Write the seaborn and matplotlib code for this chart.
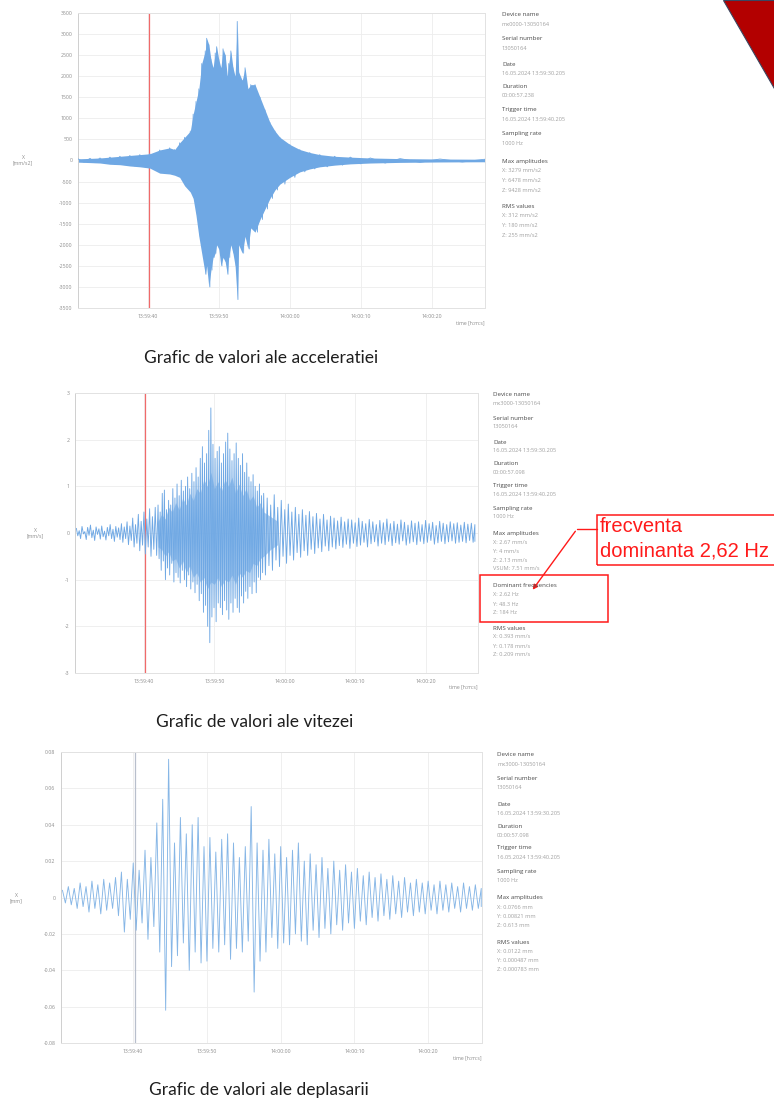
import numpy as np
import pandas as pd
import matplotlib.pyplot as plt
import matplotlib.patches as mpatches
from matplotlib.lines import Line2D
import seaborn as sns

W, H = 774, 1109

# time axis: seconds after 13:59:30
tick_t = [10, 20, 30, 40, 50]
tick_lab = ["13:59:40", "13:59:50", "14:00:00", "14:00:10", "14:00:20"]
trigger_t = 10.205

# acceleration X (mm/s2) - envelope
acc_t = [0.2, 1.9, 3.3, 4.7, 6.1, 7.5, 8.9, 10.3, 11.7, 13.1,
         13.8, 14.5, 15.2, 16.0, 16.4, 16.8, 17.2, 17.6, 18.1, 18.3,
         18.6, 18.9, 19.2, 19.5, 19.7, 20.0, 20.3, 20.6, 20.9, 21.2,
         21.4, 21.7, 22.0, 22.3, 22.6, 22.8, 23.3, 23.7, 24.1, 24.5,
         25.1, 25.8, 26.5, 27.2, 27.9, 28.6, 30.0, 31.4, 32.8, 34.2,
         36.3, 38.5, 41.3, 45.5, 51.1, 57.4]
acc_up = [40, 50, 60, 80, 100, 120, 140, 160, 250, 300,
          260, 420, 550, 700, 1100, 1400, 1700, 2300, 2600, 2900,
          2750, 2400, 2200, 2550, 2700, 2400, 2200, 2650, 2500, 2000,
          2300, 2600, 2200, 2000, 3300, 2100, 1900, 2200, 1700, 1800,
          1800, 1500, 1200, 900, 700, 550, 380, 260, 190, 140,
          100, 80, 60, 45, 35, 30]
acc_low = [-40, -50, -60, -90, -100, -130, -150, -180, -300, -320,
           -350, -400, -600, -750, -900, -1300, -1800, -2200, -2700, -2500,
           -3000, -2600, -2300, -2200, -2000, -2100, -2500, -2300, -2400, -2700,
           -2300, -2000, -2200, -2500, -3300, -2000, -2200, -1800, -2100, -1600,
           -1700, -1400, -1150, -900, -700, -560, -400, -270, -200, -150,
           -110, -80, -60, -45, -35, -30]

# velocity X (mm/s) - peaks
vel_t = np.round(np.concatenate([np.arange(0.4, 11.61, 0.4),
                                 np.arange(12.0, 27.01, 0.3),
                                 np.arange(27.5, 57.01, 0.5)]), 2)
vel_up = [0.10, 0.05, 0.14, 0.03, 0.12, 0.17, 0.06, 0.13, 0.09, 0.15,
          0.04, 0.12, 0.18, 0.08, 0.14, 0.11, 0.20, 0.13, 0.24, 0.15,
          0.32, 0.18, 0.40, 0.25, 0.45, 0.30, 0.52, 0.35, 0.55,
          0.60, 0.45, 0.85, 0.92, 0.50, 0.70, 0.60, 0.95, 0.75, 1.05,
          0.80, 1.13, 0.90, 1.00, 1.20, 0.95, 1.28, 1.10, 1.40, 1.20,
          1.60, 1.85, 1.50, 1.70, 2.20, 2.68, 1.90, 1.60, 1.75, 1.85,
          1.50, 1.70, 1.95, 2.14, 1.80, 1.55, 1.70, 1.93, 1.60, 1.45,
          1.70, 1.30, 1.50, 1.20, 1.10, 1.25, 1.00, 0.90, 1.05, 0.80,
          0.85,
          0.75, 0.60, 0.82, 0.55, 0.70, 0.50, 0.62, 0.45, 0.55, 0.40,
          0.50, 0.38, 0.46, 0.35, 0.42, 0.30, 0.40, 0.28, 0.36, 0.32,
          0.26, 0.34, 0.24, 0.30, 0.28, 0.22, 0.32, 0.25, 0.20, 0.29,
          0.24, 0.18, 0.27, 0.22, 0.30, 0.20, 0.25, 0.19, 0.28, 0.23,
          0.17, 0.26, 0.21, 0.24, 0.18, 0.27, 0.20, 0.23, 0.16, 0.25,
          0.21, 0.18, 0.24, 0.20, 0.22, 0.17, 0.23, 0.19, 0.21, 0.18]
vel_low = [-0.06, -0.12, -0.02, -0.14, -0.05, -0.10, -0.16, -0.03, -0.13, -0.08,
           -0.15, -0.06, -0.12, -0.18, -0.09, -0.14, -0.20, -0.12, -0.25, -0.16,
           -0.30, -0.22, -0.38, -0.26, -0.45, -0.30, -0.50, -0.35, -0.48,
           -0.55, -0.80, -0.60, -1.00, -0.75, -0.90, -0.65, -1.05, -0.85, -0.95,
           -1.07, -0.80, -1.00, -1.15, -0.90, -1.20, -1.05, -1.28, -1.10, -1.45,
           -1.30, -1.70, -1.55, -2.00, -2.35, -1.80, -1.60, -1.90, -1.50, -1.60,
           -1.75, -1.45, -1.65, -1.85, -1.50, -1.70, -1.40, -1.60, -1.70, -1.35,
           -1.50, -1.25, -1.40, -1.15, -1.30, -1.05, -1.28, -0.95, -1.00, -0.85,
           -0.90,
           -0.70, -0.80, -0.58, -0.72, -0.50, -0.65, -0.48, -0.58, -0.42, -0.52,
           -0.38, -0.48, -0.35, -0.44, -0.32, -0.40, -0.28, -0.38, -0.30, -0.34,
           -0.27, -0.31, -0.24, -0.33, -0.22, -0.29, -0.26, -0.20, -0.30, -0.23,
           -0.19, -0.28, -0.22, -0.25, -0.18, -0.27, -0.21, -0.24, -0.17, -0.26,
           -0.22, -0.19, -0.25, -0.18, -0.23, -0.20, -0.16, -0.24, -0.21, -0.18,
           -0.23, -0.19, -0.17, -0.22, -0.20, -0.18, -0.21, -0.16, -0.20, -0.18]
# dense core of the velocity burst
core_t = [12.0, 12.5, 13.0, 13.5, 14.0, 14.5, 15.0, 15.5, 16.0, 16.5,
          17.0, 17.5, 18.0, 18.5, 19.0, 19.5, 20.0, 20.5, 21.0, 21.5,
          22.0, 22.5, 23.0, 23.5, 24.0, 24.5, 25.0, 25.5, 26.0, 26.5,
          27.0, 28.0, 29.0]
core_up = [0.25, 0.40, 0.30, 0.55, 0.45, 0.65, 0.50, 0.75, 0.60, 0.85,
           0.70, 0.95, 0.85, 1.15, 1.00, 1.30, 0.95, 1.10, 0.90, 1.15,
           1.00, 1.20, 0.85, 1.05, 0.80, 0.95, 0.70, 0.80, 0.55, 0.65,
           0.45, 0.35, 0.25]
core_low = [-0.30, -0.35, -0.50, -0.40, -0.60, -0.55, -0.75, -0.60, -0.85, -0.70,
            -0.95, -0.85, -1.05, -0.95, -1.20, -1.05, -1.10, -0.95, -1.15, -1.00,
            -1.05, -0.90, -1.10, -0.85, -0.95, -0.80, -0.85, -0.65, -0.70, -0.55,
            -0.50, -0.35, -0.25]

# displacement X (mm)
dis_t = np.round(np.arange(0.4, 57.21, 0.8), 2)
dis_up = [0.004, 0.006, 0.005, 0.008, 0.006, 0.009, 0.007, 0.010, 0.008, 0.011,
          0.014, 0.010, 0.019, 0.015, 0.026, 0.022, 0.041, 0.054, 0.076, 0.030,
          0.044, 0.035, 0.040, 0.044, 0.028, 0.033, 0.025, 0.032, 0.035, 0.030,
          0.022, 0.028, 0.050, 0.030, 0.026, 0.032, 0.024, 0.028, 0.022, 0.026,
          0.030, 0.020, 0.024, 0.018, 0.022, 0.016, 0.020, 0.015, 0.018, 0.014,
          0.016, 0.012, 0.014, 0.011, 0.013, 0.010, 0.012, 0.009, 0.011, 0.008,
          0.010, 0.008, 0.009, 0.007, 0.009, 0.007, 0.008, 0.006, 0.008, 0.006,
          0.007, 0.005]
dis_low = [-0.003, -0.004, -0.006, -0.005, -0.008, -0.006, -0.009, -0.007, -0.006, -0.010,
           -0.019, -0.012, -0.018, -0.014, -0.023, -0.016, -0.030, -0.062, -0.038, -0.032,
           -0.025, -0.040, -0.030, -0.036, -0.035, -0.028, -0.030, -0.026, -0.034, -0.028,
           -0.030, -0.024, -0.052, -0.035, -0.030, -0.022, -0.028, -0.025, -0.026, -0.020,
           -0.024, -0.026, -0.018, -0.022, -0.017, -0.020, -0.015, -0.018, -0.014, -0.017,
           -0.013, -0.015, -0.011, -0.013, -0.010, -0.012, -0.009, -0.011, -0.008, -0.010,
           -0.008, -0.009, -0.007, -0.009, -0.007, -0.008, -0.006, -0.008, -0.006, -0.007,
           -0.006, -0.005]

info_acc = [("Device name", ["mx0000-13050164"]), ("Serial number", ["13050164"]),
            ("Date", ["16.05.2024 13:59:30.205"]), ("Duration", ["00:00:57.238"]),
            ("Trigger time", ["16.05.2024 13:59:40.205"]), ("Sampling rate", ["1000 Hz"]),
            ("Max amplitudes", ["X: 3279 mm/s2", "Y: 6478 mm/s2", "Z: 9428 mm/s2"]),
            ("RMS values", ["X: 312 mm/s2", "Y: 180 mm/s2", "Z: 255 mm/s2"])]
info_vel = [("Device name", ["mx3000-13050164"]), ("Serial number", ["13050164"]),
            ("Date", ["16.05.2024 13:59:30.205"]), ("Duration", ["00:00:57.098"]),
            ("Trigger time", ["16.05.2024 13:59:40.205"]), ("Sampling rate", ["1000 Hz"]),
            ("Max amplitudes", ["X: 2.67 mm/s", "Y: 4 mm/s", "Z: 2.13 mm/s", "VSUM: 7.51 mm/s"]),
            ("Dominant frequencies", ["X: 2.62 Hz", "Y: 48.3 Hz", "Z: 184 Hz"]),
            ("RMS values", ["X: 0.393 mm/s", "Y: 0.178 mm/s", "Z: 0.209 mm/s"])]
info_dis = [("Device name", ["mx3000-13050164"]), ("Serial number", ["13050164"]),
            ("Date", ["16.05.2024 13:59:30.205"]), ("Duration", ["00:00:57.098"]),
            ("Trigger time", ["16.05.2024 13:59:40.205"]), ("Sampling rate", ["1000 Hz"]),
            ("Max amplitudes", ["X: 0.0766 mm", "Y: 0.00821 mm", "Z: 0.613 mm"]),
            ("RMS values", ["X: 0.0122 mm", "Y: 0.000487 mm", "Z: 0.000783 mm"])]

BLUE = "#6fa8e4"

sns.set_theme(style="white")
plt.rcParams["font.family"] = ["Open Sans", "DejaVu Sans"]

fig = plt.figure(figsize=(W / 100, H / 100), dpi=100)


def box(l, t, r, b):
    return [l / W, 1 - b / H, (r - l) / W, (b - t) / H]


def fx(x):
    return x / W


def fy(y):
    return 1 - y / H


def zigzag(t, up, low):
    t = np.asarray(t, float)
    tm = np.append((t[:-1] + t[1:]) / 2, t[-1])
    xs = np.ravel(np.column_stack([t, tm]))
    ys = np.ravel(np.column_stack([up, low]))
    return pd.DataFrame({"t": xs, "v": ys})


def setup(ax, t1, lim, yt, ylab, trig_color):
    ax.set_xlim(0.205, t1)
    ax.set_ylim(-lim, lim)
    ax.set_yticks(yt)
    ax.set_yticklabels(ylab)
    ax.set_xticks(tick_t)
    ax.set_xticklabels(tick_lab)
    ax.tick_params(length=0, labelsize=3.7, labelcolor="#8c8c8c", pad=4)
    ax.grid(True, color="#ededed", lw=0.6)
    for s in ax.spines.values():
        s.set_color("#e2e2e2")
        s.set_linewidth(0.7)
    ax.spines["left"].set_color("#cfcfcf")
    ax.axvline(trigger_t, color=trig_color, lw=0.9, zorder=1.5)
    ax.set_xlabel("")
    ax.set_ylabel("")
    ax.text(1.0, -0.05, "time [h:m:s]", transform=ax.transAxes, ha="right",
            va="center", fontsize=3.7, color="#8c8c8c")


def info(x0, y_heads, entries, step):
    for (head, vals), y in zip(entries, y_heads):
        fig.text(fx(x0), fy(y), head, fontsize=4.4, color="#4a4a4a", va="center")
        for k, v in enumerate(vals):
            fig.text(fx(x0), fy(y + step * (k + 1)), v, fontsize=4.1,
                     color="#a0a0a0", va="center")


# acceleration
ax1 = fig.add_axes(box(78, 13, 485, 308))
ax1.fill_between(acc_t, acc_low, acc_up, color=BLUE, lw=0, zorder=2)
sns.lineplot(data=zigzag(acc_t, acc_up, acc_low), x="t", y="v", sort=False,
             estimator=None, color=BLUE, lw=0.6, ax=ax1, zorder=3)
setup(ax1, 57.443, 3500, np.arange(-3500, 3501, 500),
      [str(v) for v in range(-3500, 3501, 500)], "#f06a6a")
fig.text(fx(23), fy(160), "X\n[mm/s2]", fontsize=3.7, color="#8c8c8c",
         ha="center", va="center")

# velocity
ax2 = fig.add_axes(box(75, 393, 478, 673))
ax2.fill_between(core_t, core_low, core_up, color=BLUE, alpha=0.6, lw=0, zorder=2)
sns.lineplot(data=zigzag(vel_t, vel_up, vel_low), x="t", y="v", sort=False,
             estimator=None, color=BLUE, lw=0.65, ax=ax2, zorder=3)
setup(ax2, 57.443, 3, np.arange(-3, 4), [str(v) for v in range(-3, 4)], "#f06a6a")
fig.text(fx(35), fy(533), "X\n[mm/s]", fontsize=3.7, color="#8c8c8c",
         ha="center", va="center")

# displacement
ax3 = fig.add_axes(box(61, 752, 482, 1043))
sns.lineplot(data=zigzag(dis_t, dis_up, dis_low), x="t", y="v", sort=False,
             estimator=None, color="#86b6e6", lw=0.65, ax=ax3, zorder=3)
dis_ticks = [-0.08, -0.06, -0.04, -0.02, 0, 0.02, 0.04, 0.06, 0.08]
setup(ax3, 57.303, 0.08, dis_ticks,
      ["0" if v == 0 else f"{v:.2f}" for v in dis_ticks], "#b8bfcc")
fig.text(fx(16), fy(898), "X\n[mm]", fontsize=3.7, color="#8c8c8c",
         ha="center", va="center")

# info panels
info(502, [15, 39, 64, 86, 110, 134, 161, 206], info_acc, 9.7)
info(493, [395, 418, 442, 464, 486, 508, 533, 586, 628], info_vel, 9.0)
info(497, [755, 778, 804, 826, 848, 871, 898, 942], info_dis, 9.2)

# captions
cap_kw = dict(fontsize=12.5, color="#1e1e1e", ha="center", va="center",
              family=["Lato", "DejaVu Sans"])
fig.text(fx(261), fy(358), "Grafic de valori ale acceleratiei", **cap_kw)
fig.text(fx(255), fy(722), "Grafic de valori ale vitezei", **cap_kw)
fig.text(fx(259), fy(1090), "Grafic de valori ale deplasarii", **cap_kw)

# dominant frequency callout
RED = "#ff1a1a"
fig.add_artist(mpatches.Rectangle((fx(480), fy(622)), (608 - 480) / W, (622 - 575) / H,
                                  transform=fig.transFigure, fill=False,
                                  edgecolor=RED, lw=1.1))
fig.add_artist(mpatches.Rectangle((fx(597), fy(565)), (790 - 597) / W, (565 - 515) / H,
                                  transform=fig.transFigure, fill=False,
                                  edgecolor=RED, lw=1.1))
fig.text(fx(600), fy(527), "frecventa", fontsize=14.5, color=RED, va="center",
         family=["Liberation Sans", "DejaVu Sans"])
fig.text(fx(600), fy(551), "dominanta 2,62 Hz", fontsize=14.5, color=RED, va="center",
         family=["Liberation Sans", "DejaVu Sans"])
fig.add_artist(Line2D([fx(597), fx(577)], [fy(529), fy(529)],
                      transform=fig.transFigure, color=RED, lw=1.0))
fig.add_artist(mpatches.FancyArrowPatch((fx(577), fy(529)), (fx(531), fy(592)),
                                        transform=fig.transFigure, color=RED,
                                        lw=1.0, arrowstyle="-|>", mutation_scale=7))

# slide corner decoration
fig.add_artist(mpatches.Polygon([(fx(723), fy(0)), (fx(775), fy(0)), (fx(775), fy(90))],
                                closed=True, transform=fig.transFigure,
                                facecolor="#b30000", edgecolor="#3a4660", lw=0.8))

fig.savefig("out.png", dpi=100)
